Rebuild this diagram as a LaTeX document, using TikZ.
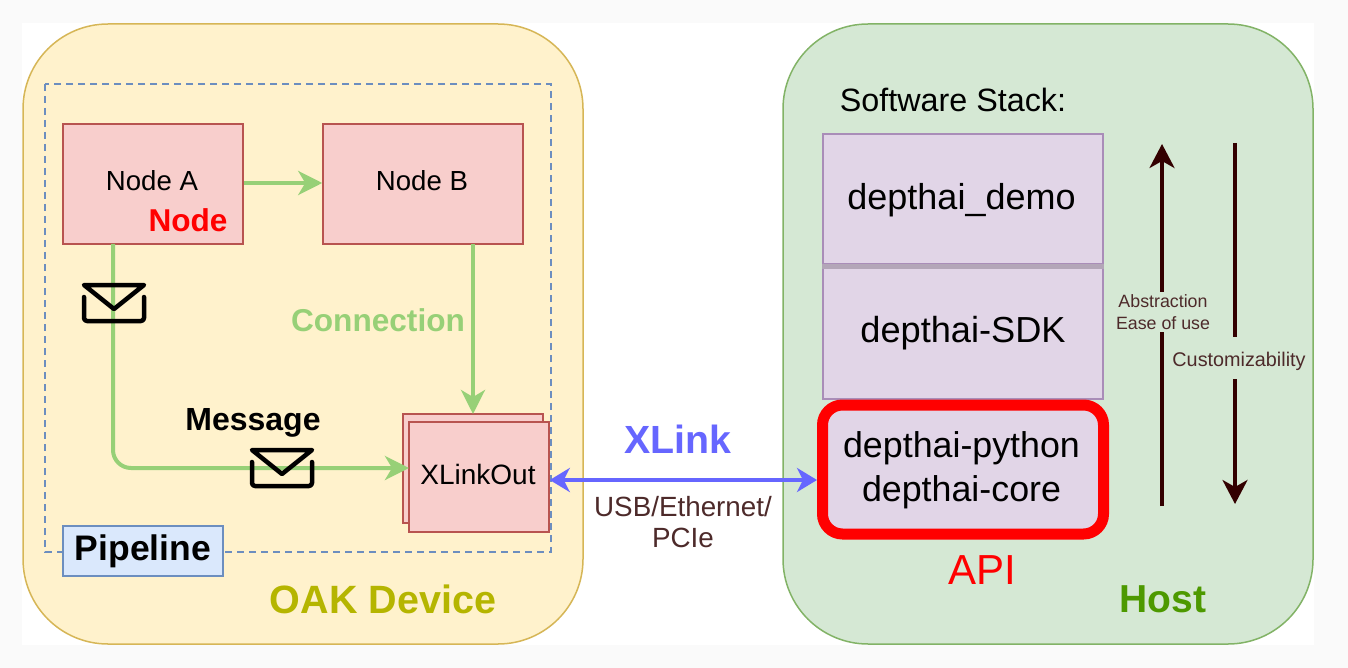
\documentclass[tikz,border=0pt]{standalone}
\usepackage{xcolor}
\usepackage{fontspec}
\setmainfont{Liberation Sans}
\usetikzlibrary{arrows.meta}
\definecolor{panelyellow}{HTML}{FFF2CC}
\definecolor{edgeyellow}{HTML}{D6B656}
\definecolor{panelgreen}{HTML}{D5E8D4}
\definecolor{edgegreen}{HTML}{82B366}
\definecolor{nodepink}{HTML}{F8CECC}
\definecolor{edgepink}{HTML}{B85450}
\definecolor{stackpurple}{HTML}{E1D5E7}
\definecolor{edgepurple}{HTML}{A98DB8}
\definecolor{bandgray}{HTML}{B3A6B8}
\definecolor{labelblue}{HTML}{DAE8FC}
\definecolor{edgeblue}{HTML}{6C8EBF}
\definecolor{linkgreen}{HTML}{97D077}
\definecolor{linkblue}{HTML}{6666FF}
\definecolor{darkbrown}{HTML}{330000}
\definecolor{usbbrown}{HTML}{4D2A2A}
\definecolor{oakolive}{HTML}{B5B500}
\definecolor{hostgreen}{HTML}{4D9900}
\newcommand{\fs}[1]{\fontsize{#1}{#1}\selectfont}
\tikzset{
	panel/.style={draw, line width=1.5pt, rounded corners=85pt, inner sep=0pt},
	box/.style={rectangle, draw=edgepink, fill=nodepink, line width=1.5pt, inner sep=0pt},
	stackbox/.style={rectangle, draw=edgepurple, fill=stackpurple, line width=1.5pt, inner sep=0pt, minimum width=280pt, align=center},
	link/.style={draw=linkgreen, line width=4pt, -{Stealth[length=24pt,width=24pt,inset=7pt]}},
	bigarrow/.style={draw=darkbrown, line width=3.5pt},
	txt/.style={inner sep=0pt, align=center},
	envelope/.style={draw=black, line width=4.5pt, line join=round, line cap=round},
}
\begin{document}
\begin{tikzpicture}[x=1pt,y=-1pt]
	\useasboundingbox (0,0) rectangle (1348,668);
	\fill[white!98!black] (0,0) rectangle (1348,668);
	\fill[white] (22,23) rectangle (1314,645);
	% panels
	\draw[panel, draw=edgeyellow, fill=panelyellow] (23,24) rectangle (583,644);
	\draw[panel, draw=edgegreen, fill=panelgreen] (783,24) rectangle (1313,644);
	\draw[draw=edgeblue, line width=1.5pt, dash pattern=on 7pt off 5pt] (45,84) rectangle (551,552);
	% device side
	\node[box, minimum width=180pt, minimum height=120pt] (nodea) at (153,184) {};
	\node[txt, font=\fs{27.6}] (nodeatext) at (152,181) {Node A};
	\node[txt, text=red, font=\fs{31.6}\bfseries] (nodetext) at (188,220) {Node};
	\node[box, minimum width=200pt, minimum height=120pt] (nodeb) at (423,184) {};
	\node[txt, font=\fs{27.6}] (nodebtext) at (422,181) {Node B};
	\node[box, minimum width=140pt, minimum height=109pt] (xlinkback) at (473,468.5) {};
	\node[box, minimum width=140pt, minimum height=110pt] (xlinkout) at (479,477) {};
	\node[txt, font=\fs{28}] (xlinktext) at (478,474) {XLinkOut};
	\node[rectangle, draw=edgeblue, fill=labelblue, line width=1.5pt, inner sep=0pt, minimum width=160pt, minimum height=50pt, font=\fs{35.5}\bfseries] (pipeline) at (143,551) {Pipeline};
	\coordinate (abottom) at (113,244);
	\coordinate (bbottom) at (473,244);
	\coordinate (xtop) at (473,414);
	\coordinate (xleft) at (409,468);
	\draw[link] (nodea.east |- 0,183) -- (nodeb.west |- 0,183);
	\draw[link] (bbottom) -- (xtop);
	\draw[link, rounded corners=18pt] (abottom) -- (113,468) -- (xleft);
	\node[txt, text=linkgreen, font=\fs{31.6}\bfseries] (connection) at (378,320) {Connection};
	\node[txt, font=\fs{32}\bfseries] (message) at (253,422.5) {Message};
	\foreach \ex/\ey in {114/303, 282/468}{
		\begin{scope}[shift={(\ex,\ey)}]
			\draw[envelope, rounded corners=3pt] (-30,-6) -- (-30,18) -- (30,18) -- (30,-6);
			\draw[envelope] (-30,-18) -- (30,-18) -- (0,6) -- cycle;
		\end{scope}
	}
	% host side
	\node[txt, font=\fs{32.3}] (stacktitle) at (953,100) {Software Stack:};
	\node[stackbox, minimum height=130pt] (demo) at (963,199) {};
	\node[txt, font=\fs{36}] (demotext) at (961.5,200) {depthai\_demo};
	\node[stackbox, minimum height=131pt, font=\fs{36.2}] (sdk) at (963,333.5) {depthai-SDK};
	\draw[draw=bandgray, line width=5pt] ([yshift=-2pt]demo.south west) -- ([yshift=-2pt]demo.south east);
	\node[rectangle, rounded corners=20pt, draw=red, fill=stackpurple, line width=11pt, minimum width=281pt, minimum height=129pt, inner sep=0pt] (core) at (963,469.5) {};
	\node[txt, font=\fs{35.8}] (coretext) at (961.5,470.5) {depthai-python\\[8.2pt]depthai-core};
	\node[txt, text=red, font=\fs{42}] (api) at (982,570) {API};
	\node[txt, text=hostgreen, font=\fs{39}\bfseries] (host) at (1163,599) {Host};
	\node[txt, text=oakolive, font=\fs{39.5}\bfseries] (oak) at (383,599) {OAK Device};
	% stack arrows
	\coordinate (upstart) at (1162,506);
	\coordinate (upend) at (1162,144);
	\coordinate (downstart) at (1235,143);
	\coordinate (downend) at (1235,504);
	\draw[bigarrow, -{Stealth[length=24pt,width=25pt,inset=7pt]}] (upstart) -- (upend);
	\draw[bigarrow, -{Stealth[length=24pt,width=25pt,inset=7pt]}] (downstart) -- (downend);
	\node[txt, fill=panelgreen, text=usbbrown, inner ysep=2pt, font=\fs{17.8}] (abstraction) at (1163,312) {Abstraction\\[4.2pt]Ease of use};
	\node[fill=panelgreen, inner sep=0pt, minimum width=20pt, minimum height=42pt] (customgap) at (1235,358) {};
	\node[txt, text=usbbrown, font=\fs{19.8}] (custom) at (1239,361) {Customizability};
	% xlink
	\draw[draw=linkblue, line width=3.5pt, {Stealth[length=20pt,width=24pt,inset=6pt]}-{Stealth[length=20pt,width=24pt,inset=6pt]}] (xlinkout.east |- 0,480) -- (core.west |- 0,480);
	\node[txt, text=linkblue, font=\fs{39.3}\bfseries] (xlink) at (678,439) {XLink};
	\node[txt, text=usbbrown, font=\fs{27.8}] (usb) at (683,522) {USB/Ethernet/\\[3.2pt]PCIe};
\end{tikzpicture}
\end{document}
